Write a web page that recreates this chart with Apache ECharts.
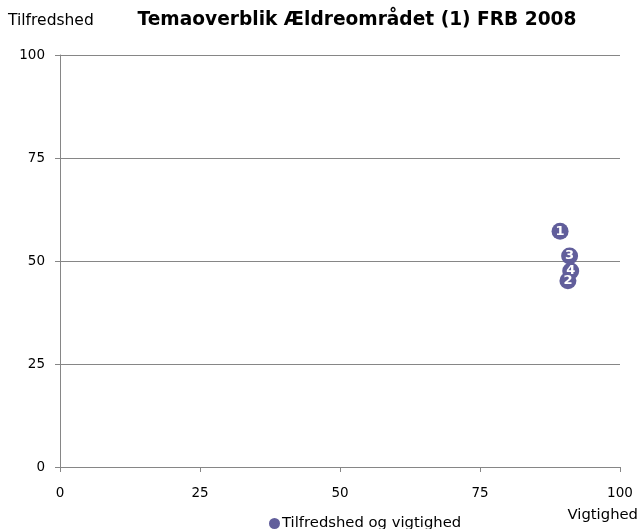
<!DOCTYPE html>
<html><head><meta charset="utf-8">
<script src="https://cdn.jsdelivr.net/npm/echarts@6/dist/echarts.min.js"></script>
<style>html,body{margin:0;padding:0;background:#fff}#c{width:641px;height:529px}</style>
</head><body><div id="c"></div>
<script>
const labels = ['1', '2', '3', '4'];
const vigtighed = [89.3, 90.7, 91.0, 91.2];
const tilfredshed = [57.2, 45.2, 51.2, 47.6];
const xTicks = [0, 25, 50, 75, 100];
const yTicks = [0, 25, 50, 75, 100];

const data = labels.map((l, i) => ({ value: [vigtighed[i], tilfredshed[i]], name: l }));
const chart = echarts.init(document.getElementById('c'));
const font = 'DejaVu Sans, Verdana, sans-serif';
chart.setOption({
  animation: false,
  title: {
    text: 'Temaoverblik Ældreområdet (1) FRB 2008',
    left: 352, top: 6, textAlign: 'center',
    textStyle: { fontFamily: font, fontSize: 18.6, fontWeight: 'bold', color: '#000' }
  },
  legend: {
    top: 511, left: 264,
    itemWidth: 11, itemHeight: 11, itemGap: 4,
    icon: 'circle',
    textStyle: { fontFamily: font, fontSize: 14.8, color: '#000', padding: [0, 0, 0, -3] },
    data: ['Tilfredshed og vigtighed']
  },
  grid: { left: 60, right: 21, top: 55, bottom: 62, containLabel: false, outerBoundsMode: 'none' },
  xAxis: {
    type: 'value', min: 0, max: 100, interval: 25,
    name: 'Vigtighed', nameLocation: 'end', nameGap: 0,
    nameTextStyle: { fontFamily: font, fontSize: 14.8, color: '#000', align: 'right', verticalAlign: 'top', padding: [41, -18, 0, 0] },
    axisLine: { show: true, lineStyle: { color: '#868686', width: 1 } },
    axisTick: { show: true, length: 5, lineStyle: { color: '#868686' } },
    axisLabel: { fontFamily: font, fontSize: 13.5, color: '#000', margin: 19 },
    splitLine: { show: false }
  },
  yAxis: {
    type: 'value', min: 0, max: 100, interval: 25,
    name: 'Tilfredshed', nameLocation: 'end', nameGap: 34,
    nameTextStyle: { fontFamily: font, fontSize: 15.5, color: '#000', align: 'left', verticalAlign: 'middle', padding: [0, 0, 0, -52] },
    axisLine: { show: true, lineStyle: { color: '#868686', width: 1 } },
    axisTick: { show: true, inside: false, length: 5, lineStyle: { color: '#868686' } },
    axisLabel: { fontFamily: font, fontSize: 13.5, color: '#000', margin: 15 },
    splitLine: { show: true, lineStyle: { color: '#868686', width: 1 } }
  },
  series: [{
    name: 'Tilfredshed og vigtighed',
    type: 'scatter',
    symbolSize: 17,
    itemStyle: { color: '#615E9B', opacity: 1 },
    label: {
      show: true, position: 'inside', formatter: p => p.name,
      fontFamily: font, fontSize: 13, fontWeight: 'bold', color: '#fff'
    },
    data: data
  }]
});
</script></body></html>
